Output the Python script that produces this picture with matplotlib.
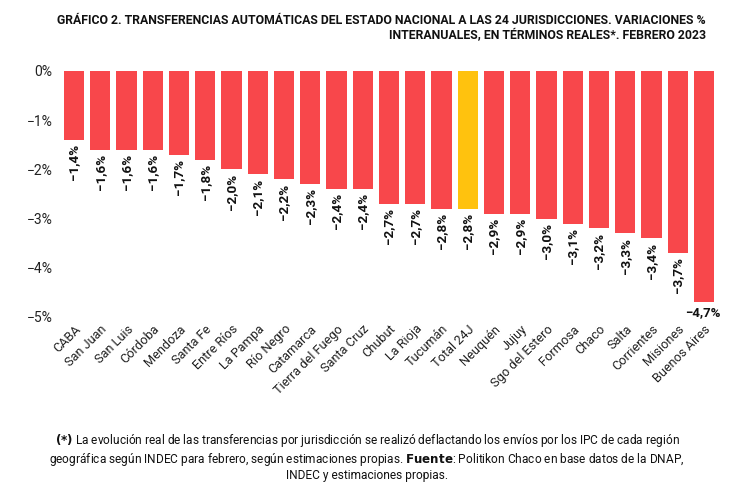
import matplotlib
matplotlib.use("Agg")
import matplotlib.pyplot as plt

categories = ["CABA", "San Juan", "San Luis", "Córdoba", "Mendoza", "Santa Fe",
              "Entre Ríos", "La Pampa", "Río Negro", "Catamarca", "Tierra del Fuego",
              "Santa Cruz", "Chubut", "La Rioja", "Tucumán", "Total 24J", "Neuquén",
              "Jujuy", "Sgo del Estero", "Formosa", "Chaco", "Salta", "Corrientes",
              "Misiones", "Buenos Aires"]
values = [-1.4, -1.6, -1.6, -1.6, -1.7, -1.8, -2.0, -2.1, -2.2, -2.3, -2.4, -2.4,
          -2.7, -2.7, -2.8, -2.8, -2.9, -2.9, -3.0, -3.1, -3.2, -3.3, -3.4, -3.7, -4.7]
highlight = "Total 24J"
yticks = [0, -1, -2, -3, -4, -5]

RED = "#F8474B"
YELLOW = "#FFC20E"

plt.rcParams["font.family"] = ["Roboto", "DejaVu Sans"]

fig = plt.figure(figsize=(7.34, 4.95), dpi=100)
n = len(categories)
ax = fig.add_axes([0.083, 0.3596, 0.894, 0.4970])

colors = [YELLOW if c == highlight else RED for c in categories]
x = list(range(n))
ax.bar(x, values, width=0.77, color=colors, zorder=2)
ax.set_xlim(-0.5, n - 0.5)
ax.set_ylim(-5, 0)
ax.set_yticks(yticks)
ax.set_yticklabels([f"{t}%".replace("-", "−") for t in yticks], fontsize=10, color="#222222")
ax.set_xticks(x)
ax.set_xticklabels(categories, rotation=45, ha="right", rotation_mode="anchor",
                   fontsize=9.2, color="#222222")
ax.tick_params(axis="both", length=0, pad=6)
ax.tick_params(axis="x", pad=4)
for s in ax.spines.values():
    s.set_visible(False)

for i, v in enumerate(values):
    lbl = f"{v:.1f}%".replace(".", ",").replace("-", "−")
    if i == n - 1:
        ax.annotate(lbl, (i, v), xytext=(-1, -3), textcoords="offset points",
                    ha="center", va="top", fontsize=9.5, fontweight="bold", color="#111111")
    else:
        ax.annotate(lbl, (i, v), xytext=(0, -3), textcoords="offset points",
                    ha="center", va="top", rotation=90, fontsize=9.7,
                    fontweight="bold", color="#111111")

fig.text(0.962, 0.972,
         "GRÁFICO 2. TRANSFERENCIAS AUTOMÁTICAS DEL ESTADO NACIONAL A LAS 24 JURISDICCIONES. VARIACIONES %\nINTERANUALES, EN TÉRMINOS REALES*. FEBRERO 2023",
         ha="right", va="top", fontsize=8.85, fontweight="bold",
         linespacing=1.2, color="#111111")

fig.text(0.5, 0.077,
         r"$\bf{(*)}$ La evolución real de las transferencias por jurisdicción se realizó deflactando los envíos por los IPC de cada región" "\n"
         r"geográfica según INDEC para febrero, según estimaciones propias. $\bf{Fuente}$: Politikon Chaco en base datos de la DNAP," "\n"
         "INDEC y estimaciones propias.",
         ha="center", va="center", fontsize=8.6,
         linespacing=1.15, color="#111111")

fig.savefig("out.png", dpi=100, facecolor="white")
